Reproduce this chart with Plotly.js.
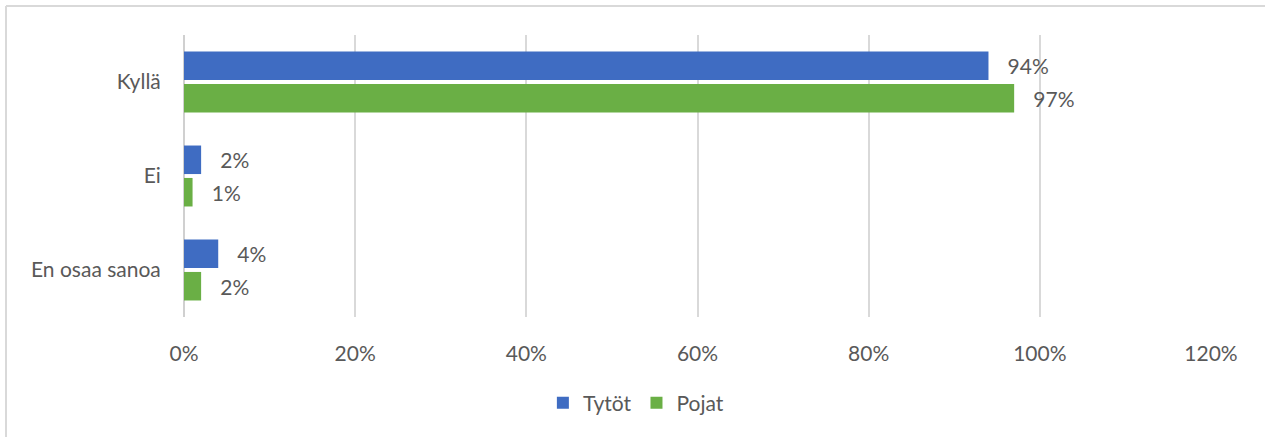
<!DOCTYPE html>
<html>
<head>
<meta charset="utf-8">
<script src="https://cdn.plot.ly/plotly-3.0.1.min.js"></script>
<style>html,body{margin:0;padding:0;background:#fff;}#chart{width:1265px;height:437px;}</style>
</head>
<body>
<div id="chart"></div>
<script>
const categories = ["Kyllä", "Ei", "En osaa sanoa"];
const tytot = [0.94, 0.02, 0.04];
const pojat = [0.97, 0.01, 0.02];
const seriesNames = ["Tytöt", "Pojat"];
const tickVals = [0, 0.2, 0.4, 0.6, 0.8, 1.0, 1.2];
const tickText = ["0%", "20%", "40%", "60%", "80%", "100%", "120%"];

const W = 1265, H = 437;
const mL = 184, mR = 54, mT = 35, mB = 120;
const pw = W - mL - mR, ph = H - mT - mB;
const px = v => (v - mL) / pw;
const py = v => (H - mB - v) / ph;

const font = {family: "Lato, 'Open Sans', sans-serif", size: 21, color: "#595959"};

const traces = [
  {name: seriesNames[0], y: categories, x: tytot, type: "bar", orientation: "h",
   marker: {color: "#3f6cc2"}, texttemplate: "   %{x:.0%}", textposition: "outside",
   textfont: font, cliponaxis: false, hoverinfo: "none"},
  {name: seriesNames[1], y: categories, x: pojat, type: "bar", orientation: "h",
   marker: {color: "#6aaf45"}, texttemplate: "   %{x:.0%}", textposition: "outside",
   textfont: font, cliponaxis: false, hoverinfo: "none"}
];

const layout = {
  width: W, height: H,
  margin: {l: mL, r: mR, t: mT, b: mB},
  paper_bgcolor: "#fff", plot_bgcolor: "#fff",
  font: font,
  barmode: "group", bargap: 0.31, bargroupgap: 0.12,
  xaxis: {range: [0, 1.2], tickvals: tickVals, ticktext: tickText,
          showgrid: true, gridcolor: "#d9d9d9", gridwidth: 2,
          zeroline: true, zerolinecolor: "#d0d0d0", zerolinewidth: 2,
          showline: false, ticks: "outside", ticklen: 18, tickcolor: "rgba(0,0,0,0)",
          tickfont: font, fixedrange: true},
  yaxis: {autorange: "reversed", showgrid: false, zeroline: false, showline: false,
          ticks: "outside", ticklen: 18, tickcolor: "rgba(0,0,0,0)", tickfont: font, fixedrange: true},
  legend: {orientation: "h", x: 0.44, xanchor: "center", y: py(403), yanchor: "middle",
           font: font, traceorder: "normal", itemwidth: 30},
  shapes: [
    {type: "line", xref: "paper", yref: "paper", x0: px(6), x1: px(1265), y0: py(6), y1: py(6),
     line: {color: "#d9d9d9", width: 2}},
    {type: "line", xref: "paper", yref: "paper", x0: px(6), x1: px(6), y0: py(6), y1: py(437),
     line: {color: "#d9d9d9", width: 2}}
  ],
  showlegend: true
};

Plotly.newPlot("chart", traces, layout, {displayModeBar: false, staticPlot: true});
</script>
</body>
</html>
